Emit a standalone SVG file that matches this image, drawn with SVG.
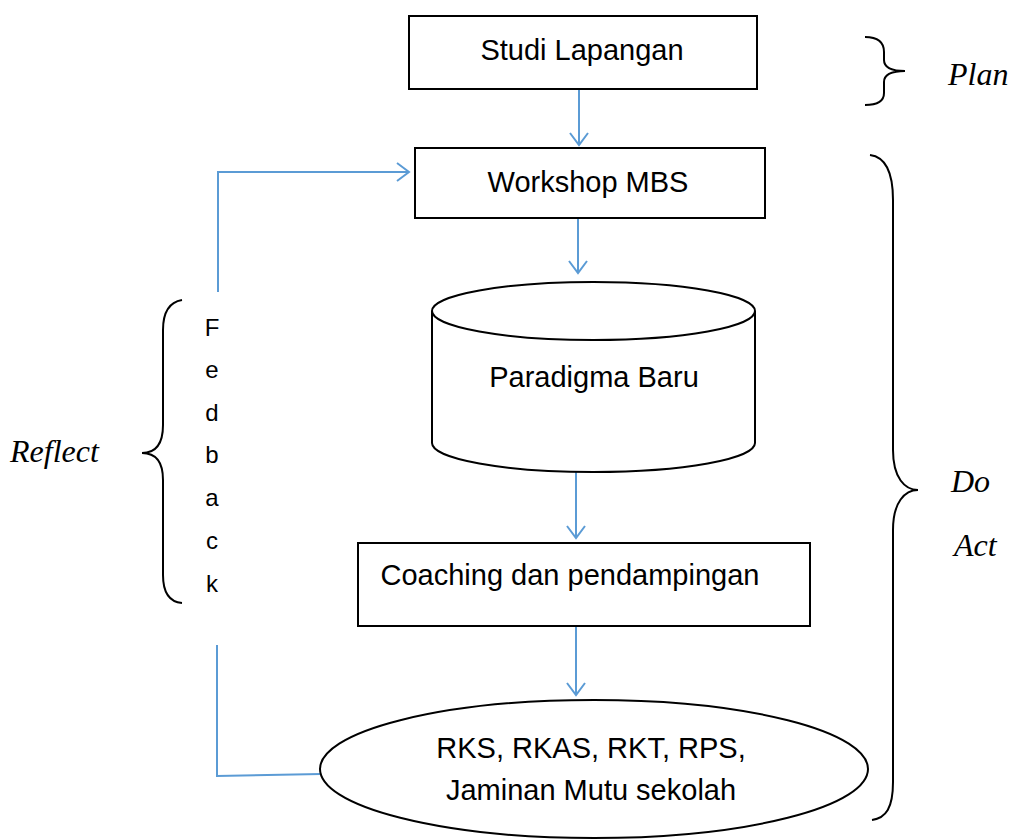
<svg xmlns="http://www.w3.org/2000/svg" width="1012" height="839" viewBox="0 0 1012 839">
  <style>
    .box { fill: #ffffff; stroke: #000000; stroke-width: 2; }
    .lbl { font-family: "Liberation Sans", Arial, sans-serif; font-size: 29px; fill: #000000; text-anchor: middle; }
    .fb { font-family: "Liberation Sans", Arial, sans-serif; font-size: 24px; fill: #000000; text-anchor: middle; }
    .phase { font-family: "Liberation Serif", "Times New Roman", serif; font-style: italic; font-size: 32px; fill: #000000; }
    .link { fill: none; stroke: #5B9BD5; stroke-width: 2; }
    .brace { fill: none; stroke: #000000; stroke-width: 2; }
  </style>
  <defs>
    <marker id="arrow" markerUnits="userSpaceOnUse" markerWidth="16" markerHeight="22" viewBox="-14 -11 16 22" refX="0" refY="0" orient="auto">
      <path d="M-12,-9 L0,0 L-12,9" fill="none" stroke="#5B9BD5" stroke-width="2"/>
    </marker>
  </defs>

  <rect width="1012" height="839" fill="#ffffff"/>

  <!-- connectors -->
  <g id="connectors">
    <line class="link" x1="579" y1="89" x2="579" y2="145" marker-end="url(#arrow)"/>
    <line class="link" x1="578" y1="218" x2="578" y2="273" marker-end="url(#arrow)"/>
    <line class="link" x1="576" y1="472" x2="576" y2="538" marker-end="url(#arrow)"/>
    <line class="link" x1="576" y1="626" x2="576" y2="695" marker-end="url(#arrow)"/>
    <polyline class="link" points="218,292 218,172 409,172" marker-end="url(#arrow)"/>
    <polyline class="link" points="217,645 217,776 321,774"/>
  </g>

  <!-- nodes -->
  <g id="studi-lapangan">
    <rect class="box" x="409" y="16" width="348" height="73"/>
    <text class="lbl" x="582" y="60">Studi Lapangan</text>
  </g>

  <g id="workshop-mbs">
    <rect class="box" x="415" y="148" width="350" height="70"/>
    <text class="lbl" x="588" y="192">Workshop MBS</text>
  </g>

  <g id="paradigma-baru">
    <path class="box" d="M432,311 V443 A161.5,29 0 0 0 755,443 V311"/>
    <ellipse class="box" cx="593.5" cy="311" rx="161.5" ry="29"/>
    <text class="lbl" x="594" y="387">Paradigma Baru</text>
  </g>

  <g id="coaching">
    <rect class="box" x="358" y="543" width="452" height="83"/>
    <text class="lbl" x="570" y="585">Coaching dan pendampingan</text>
  </g>

  <g id="hasil">
    <ellipse class="box" cx="594" cy="769" rx="274" ry="69"/>
    <text class="lbl" x="591" y="758">RKS, RKAS, RKT, RPS,</text>
    <text class="lbl" x="591" y="800">Jaminan Mutu sekolah</text>
  </g>

  <!-- vertical feedback label -->
  <g id="feedback">
    <text class="fb" x="212" y="336">F</text>
    <text class="fb" x="212" y="378">e</text>
    <text class="fb" x="212" y="421">d</text>
    <text class="fb" x="212" y="463">b</text>
    <text class="fb" x="212" y="506">a</text>
    <text class="fb" x="212" y="549">c</text>
    <text class="fb" x="212" y="592">k</text>
  </g>

  <!-- phase braces -->
  <g id="plan">
    <path class="brace" d="M865,37 C877,37 884,42 884,52 L884,60 C884,68 892,71 905,71 C892,71 884,74 884,82 L884,93 C884,101 877,105 865,105"/>
    <text class="phase" x="948" y="85">Plan</text>
  </g>

  <g id="do-act">
    <path class="brace" d="M870,155 C886,157 893,172 893,200 L893,450 C893,478 905,490 918,490 C905,490 893,502 893,530 L893,782 C893,808 886,818 872,820"/>
    <text class="phase" x="951" y="492">Do</text>
    <text class="phase" x="954" y="556">Act</text>
  </g>

  <g id="reflect">
    <path class="brace" d="M182,300 C170,302 163,312 163,330 L163,425 C163,445 155,453 142,453 C155,453 163,461 163,480 L163,575 C163,593 170,602 182,603"/>
    <text class="phase" x="10" y="462">Reflect</text>
  </g>
</svg>
